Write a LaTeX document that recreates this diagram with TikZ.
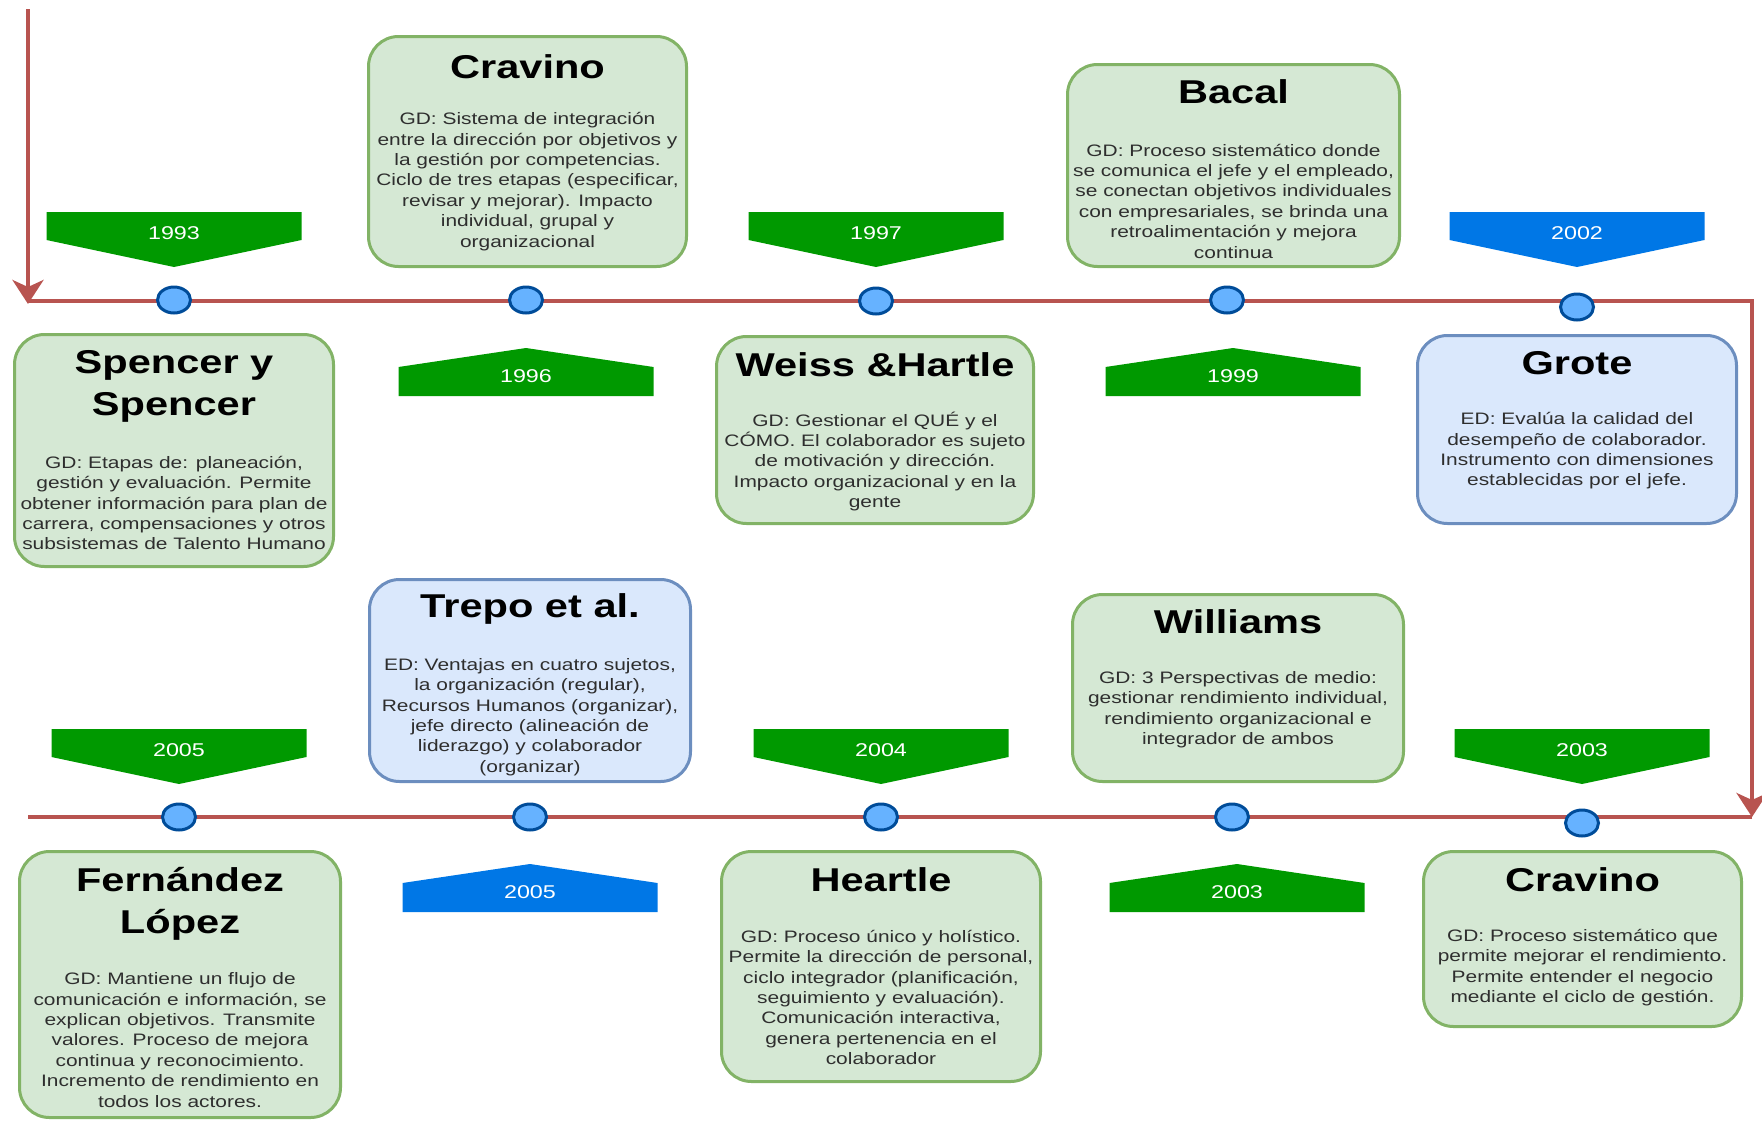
\documentclass[tikz,border=0pt]{standalone}
\usepackage{fontspec}
\usetikzlibrary{shapes.geometric,arrows.meta}
\newfontfamily\af[FakeStretch=1.26]{Liberation Sans}
\definecolor{tline}{HTML}{B85450}
\definecolor{dotfill}{HTML}{66B2FF}
\definecolor{dotdraw}{HTML}{004C99}
\definecolor{bgreen}{HTML}{009900}
\definecolor{bblue}{HTML}{0077E6}
\definecolor{gfill}{HTML}{D5E8D4}
\definecolor{gdraw}{HTML}{82B366}
\definecolor{bfill}{HTML}{DAE8FC}
\definecolor{bdraw}{HTML}{6C8EBF}
\definecolor{bodytxt}{HTML}{2E2E2E}
\newcommand\dnban[5]{%
  \fill[#4] (#2-127.5,#3) -- (#2+127.5,#3) -- (#2+127.5,#3+28) -- (#2,#3+55) -- (#2-127.5,#3+28) -- cycle;
  \node[yr] (#1) at (#2,#3+21) {#5};}
\newcommand\upban[5]{%
  \fill[#4] (#2-127.5,#3+19) -- (#2,#3) -- (#2+127.5,#3+19) -- (#2+127.5,#3+48) -- (#2-127.5,#3+48) -- cycle;
  \node[yr] (#1) at (#2,#3+28) {#5};}
\begin{document}
\begin{tikzpicture}[x=1pt,y=-1pt,
  tl/.style={draw=tline, line width=4pt},
  tiparrow/.style={-{Stealth[length=24pt,width=31pt,inset=7pt]}},
  dot/.style={ellipse, draw=dotdraw, fill=dotfill, line width=3pt, minimum width=33pt, minimum height=26pt, inner sep=0pt},
  gbox/.style={rectangle, rounded corners=30pt, draw=gdraw, fill=gfill, line width=3pt, inner sep=0pt},
  bbox/.style={gbox, draw=bdraw, fill=bfill},
  ttl/.style={font=\af\bfseries\fontsize{33}{42}\selectfont, align=center, inner sep=0pt},
  bdy/.style={font=\af\fontsize{16.6}{20.4}\selectfont, text=bodytxt, align=center, inner sep=0pt},
  yr/.style={font=\af\fontsize{18.5}{22}\selectfont, text=white, inner sep=0pt},
]
\useasboundingbox (0,0) rectangle (1762,1122);

% timeline
\coordinate (start) at (28,9);
\coordinate (tleft) at (28,304);
\coordinate (tright) at (1752,301);
\coordinate (bright) at (1752,817);
\coordinate (bleft) at (28,817);
\draw[tl, tiparrow] (start) -- (tleft);
\draw[tl, tiparrow] (28,301) -- (tright) -- (bright);
\draw[tl] (bright) -- (bleft);

% dots
\node[dot] (d1) at (174,300) {};
\node[dot] (d2) at (526,300) {};
\node[dot] (d3) at (876,301) {};
\node[dot] (d4) at (1227,300) {};
\node[dot] (d5) at (1577,307) {};
\node[dot] (d6) at (179,817) {};
\node[dot] (d7) at (530,817) {};
\node[dot] (d8) at (881,817) {};
\node[dot] (d9) at (1232,817) {};
\node[dot] (d10) at (1582,823) {};

% banners
\dnban{y1993}{174}{212}{bgreen}{1993}
\dnban{y1997}{876}{212}{bgreen}{1997}
\dnban{y2002}{1577}{212}{bblue}{2002}
\upban{y1996}{526}{348}{bgreen}{1996}
\upban{y1999}{1233}{348}{bgreen}{1999}
\dnban{y2005a}{179}{729}{bgreen}{2005}
\dnban{y2004}{881}{729}{bgreen}{2004}
\dnban{y2003a}{1582}{729}{bgreen}{2003}
\upban{y2005b}{530}{864}{bblue}{2005}
\upban{y2003b}{1237}{864}{bgreen}{2003}

% boxes
\node[gbox, minimum width=319pt, minimum height=232pt] (b1) at (174,450.5) {};
\node[ttl] (t1) at (174,386) {Spencer y\\Spencer};
\node[bdy] (x1) at (174,503) {GD: Etapas de: planeación,\\gestión y evaluación. Permite\\obtener información para plan de\\carrera, compensaciones y otros\\subsistemas de Talento Humano};

\node[gbox, minimum width=318pt, minimum height=230pt] (b2) at (527.5,151.5) {};
\node[ttl] (t2) at (527.5,67) {Cravino};
\node[bdy] (x2) at (527.5,181.5) {GD: Sistema de integración\\entre la dirección por objetivos y\\la gestión por competencias.\\Ciclo de tres etapas (especificar,\\revisar y mejorar). Impacto\\individual, grupal y\\organizacional};

\node[gbox, minimum width=317pt, minimum height=187pt] (b3) at (875,430) {};
\node[ttl] (t3) at (875,365) {Weiss \&Hartle};
\node[bdy] (x3) at (875,461.5) {GD: Gestionar el QUÉ y el\\CÓMO. El colaborador es sujeto\\de motivación y dirección.\\Impacto organizacional y en la\\gente};

\node[gbox, minimum width=332pt, minimum height=202pt] (b4) at (1233.5,165.5) {};
\node[ttl] (t4) at (1233.5,92) {Bacal};
\node[bdy] (x4) at (1233.5,201) {GD: Proceso sistemático donde\\se comunica el jefe y el empleado,\\se conectan objetivos individuales\\con empresariales, se brinda una\\retroalimentación y mejora\\continua};

\node[bbox, minimum width=319pt, minimum height=188pt] (b5) at (1577,429.5) {};
\node[ttl] (t5) at (1577,363) {Grote};
\node[bdy] (x5) at (1577,451) {ED: Evalúa la calidad del\\desempeño de colaborador.\\Instrumento con dimensiones\\establecidas por el jefe.};

\node[bbox, minimum width=321pt, minimum height=202pt] (b6) at (530,680.5) {};
\node[ttl] (t6) at (530,609) {Trepo et al.};
\node[bdy] (x6) at (530,717) {ED: Ventajas en cuatro sujetos,\\la organización (regular),\\Recursos Humanos (organizar),\\jefe directo (alineación de\\liderazgo) y colaborador\\(organizar)};

\node[gbox, minimum width=331pt, minimum height=187pt] (b7) at (1238,688) {};
\node[ttl] (t7) at (1238,622) {Williams};
\node[bdy] (x7) at (1238,709.5) {GD: 3 Perspectivas de medio:\\gestionar rendimiento individual,\\rendimiento organizacional e\\integrador de ambos};

\node[gbox, minimum width=321pt, minimum height=266pt] (b8) at (180,984.5) {};
\node[ttl] (t8) at (180,903.5) {Fernández\\López};
\node[bdy] (x8) at (180,1040) {GD: Mantiene un flujo de\\comunicación e información, se\\explican objetivos. Transmite\\valores. Proceso de mejora\\continua y reconocimiento.\\Incremento de rendimiento en\\todos los actores.};

\node[gbox, minimum width=319pt, minimum height=230pt] (b9) at (881,966.5) {};
\node[ttl] (t9) at (881,880) {Heartle};
\node[bdy] (x9) at (881,997.5) {GD: Proceso único y holístico.\\Permite la dirección de personal,\\ciclo integrador (planificación,\\seguimiento y evaluación).\\Comunicación interactiva,\\genera pertenencia en el\\colaborador};

\node[gbox, minimum width=318pt, minimum height=175pt] (b10) at (1582.5,939) {};
\node[ttl] (t10) at (1582.5,880) {Cravino};
\node[bdy] (x10) at (1582.5,967.5) {GD: Proceso sistemático que\\permite mejorar el rendimiento.\\Permite entender el negocio\\mediante el ciclo de gestión.};
\end{tikzpicture}
\end{document}
